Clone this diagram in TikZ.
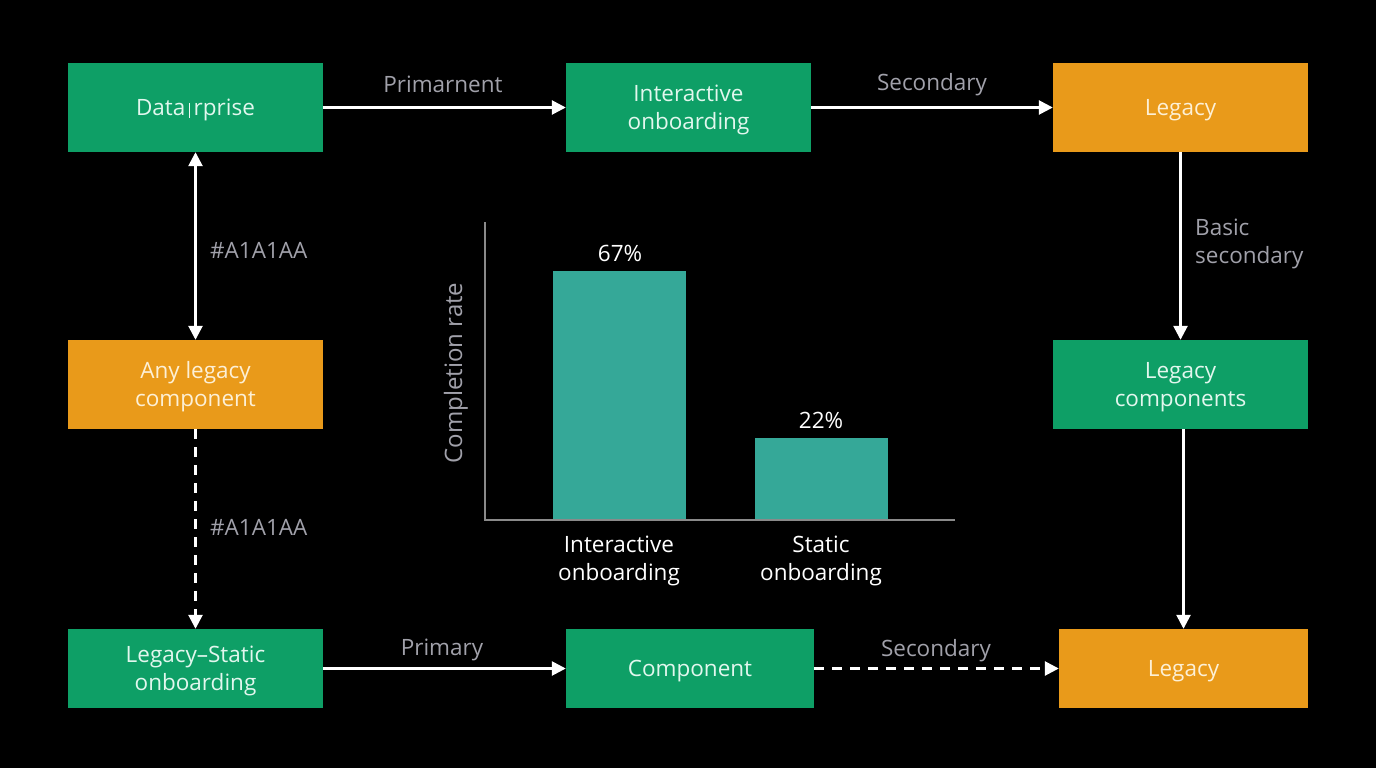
\documentclass[tikz,border=0pt]{standalone}
\usepackage{fontspec}
\setmainfont{Open Sans}
\usetikzlibrary{arrows.meta}
\definecolor{bggreen}{HTML}{0E9F66}
\definecolor{bgorange}{HTML}{E99A1A}
\definecolor{bartea}{HTML}{35A898}
\definecolor{lbl}{HTML}{A1A1AA}
\definecolor{axisc}{HTML}{8A8A8A}
\definecolor{gtext}{HTML}{E2F7EE}
\definecolor{otext}{HTML}{FDF0D6}
\tikzset{
  box/.style={draw=none, minimum height=89pt, inner sep=0pt},
  btext/.style={inner sep=0pt, align=center, yshift=-2.5pt, font=\fontsize{22.5}{28}\selectfont},
  gbox/.style={box, fill=bggreen},
  obox/.style={box, fill=bgorange},
  gtxt/.style={btext, text=gtext},
  otxt/.style={btext, text=otext},
  conn/.style={draw=white, line width=2.6pt, -{Triangle[length=14pt,width=14pt]}},
  dconn/.style={conn, dash pattern=on 10pt off 8pt},
  elabel/.style={text=lbl, font=\fontsize{22.5}{28}\selectfont, inner sep=0pt},
  chtext/.style={text=white, font=\fontsize{22.5}{28}\selectfont, inner sep=0pt, align=center},
  bar/.style={fill=bartea, draw=none},
}
\begin{document}
\begin{tikzpicture}[x=1pt,y=-1pt]
\fill[black] (0,0) rectangle (1376,768);
\useasboundingbox (0,0) rectangle (1376,768);
% nodes
\node[gbox, minimum width=255pt, label={[gtxt]center:{Data\,{\color{gtext!70}\rule[-2pt]{0.8pt}{15pt}}\,rprise}}] (A) at (195.5,107.5) {};
\node[gbox, minimum width=245pt, label={[gtxt]center:{Interactive\\onboarding}}] (B) at (688.5,107.5) {};
\node[obox, minimum width=255pt, label={[otxt]center:{Legacy}}] (C) at (1180.5,107.5) {};
\node[obox, minimum width=255pt, label={[otxt]center:{Any legacy\\component}}] (D) at (195.5,384.5) {};
\node[gbox, minimum width=255pt, label={[gtxt]center:{Legacy\\components}}] (E) at (1180.5,384.5) {};
\node[gbox, minimum width=255pt, minimum height=79pt, label={[gtxt]center:{Legacy--Static\\onboarding}}] (F) at (195.5,668.5) {};
\node[gbox, minimum width=248pt, minimum height=79pt, label={[gtxt]center:{Component}}] (G) at (690,668.5) {};
\node[obox, minimum width=249pt, minimum height=79pt, label={[otxt]center:{Legacy}}] (H) at (1183.5,668.5) {};
% connectors
\draw[conn] (A.east) -- (B.west);
\draw[conn] (B.east) -- (C.west);
\draw[conn, {Triangle[length=14pt,width=14pt]}-{Triangle[length=14pt,width=14pt]}] (A.south) -- (D.north);
\draw[dconn] (D.south) -- (F.north);
\draw[conn] (C.south) -- (E.north);
\draw[conn] (E.south -| H.north) -- (H.north);
\draw[conn] (F.east) -- (G.west);
\draw[dconn] (G.east) -- (H.west);
% labels
\node[elabel] (l1) at (443,84) {Primarnent};
\node[elabel] (l2) at (932,84.5) {Secondary};
\node[elabel, anchor=west] (l3) at (210,250) {\#A1A1AA};
\node[elabel, anchor=west] (l4) at (210,527) {\#A1A1AA};
\node[elabel, anchor=west, align=left] (l5) at (1195,243.5) {Basic\\secondary};
\node[elabel] (l6) at (442,650) {Primary};
\node[elabel] (l7) at (936,650.5) {Secondary};
% chart
\fill[bar] (553,271) rectangle (686,520);
\fill[bar] (755,438) rectangle (888,520);
\draw[axisc, line width=2.5pt] (485,222) -- (485,520) -- (955,520);
\node[chtext] (v1) at (620,253) {67\%};
\node[chtext] (v2) at (821,420) {22\%};
\node[chtext] (c1) at (619,560.5) {Interactive\\onboarding};
\node[chtext] (c2) at (821,560.5) {Static\\onboarding};
\node[elabel, rotate=90, font=\fontsize{24}{28}\selectfont] (yl) at (456,373) {Completion rate};
\end{tikzpicture}
\end{document}
